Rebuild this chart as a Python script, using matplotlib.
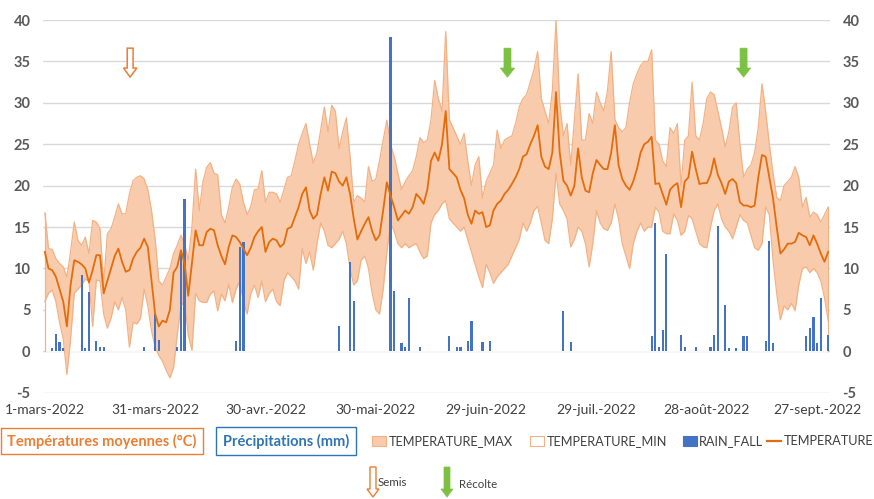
import matplotlib
matplotlib.use("Agg")
import matplotlib.pyplot as plt
from matplotlib.patches import FancyArrow, Rectangle
import numpy as np

plt.rcParams['font.family'] = ['Lato', 'DejaVu Sans']

# ---------------- data (daily, 1 March 2022 -> 30 Sept 2022) ----------------
t_max = [16.7, 12.4, 12.3, 11.2, 10.6, 10.2, 9.0, 12.0, 15.6, 13.4,
         12.8, 13.8, 11.8, 15.8, 15.6, 14.8, 8.2, 14.2, 14.8, 16.2,
         17.8, 16.6, 16.6, 19.0, 20.6, 21.0, 21.2, 20.8, 19.5, 17.0,
         13.5, 8.5, 8.0, 9.0, 10.0, 11.8, 12.8, 14.0, 13.0, 11.0,
         15.0, 22.0, 17.0, 20.5, 22.2, 22.8, 21.5, 21.3, 16.5, 15.5,
         17.4, 19.8, 20.8, 20.2, 18.0, 16.5, 17.5, 19.5, 19.6, 21.8,
         18.0, 19.2, 19.2, 19.0, 18.0, 19.5, 21.0, 21.2, 23.0, 25.0,
         26.3, 27.5, 25.0, 22.7, 24.0, 26.7, 29.5, 26.5, 29.7, 29.0,
         24.5, 26.5, 28.2, 23.5, 18.0, 18.8, 18.5, 18.0, 22.3, 20.5,
         20.8, 23.0, 25.5, 27.9, 25.0, 23.5, 21.5, 19.5, 20.5, 21.2,
         21.8, 23.5, 25.8, 25.2, 25.5, 27.9, 32.7, 30.5, 29.0, 38.6,
         28.0, 27.0, 26.0, 25.0, 26.3, 23.0, 20.0, 22.5, 23.5, 18.5,
         20.5, 21.5, 22.5, 26.7, 24.5, 25.5, 25.8, 26.0, 27.5, 29.5,
         30.5, 31.0, 32.5, 34.0, 36.2, 30.5, 29.0, 27.5, 31.5, 40.0,
         30.0, 26.0, 27.5, 22.5, 28.0, 33.5, 25.5, 25.5, 28.7, 27.5,
         31.3, 30.0, 29.0, 31.5, 36.2, 28.0, 27.0, 26.5, 27.0, 30.0,
         32.3, 33.5, 34.5, 35.0, 35.0, 36.4, 25.5, 25.0, 23.0, 22.3,
         27.0, 26.3, 27.5, 20.0, 25.5, 26.0, 32.5, 26.0, 25.5, 27.5,
         30.5, 31.3, 31.0, 29.0, 27.0, 24.7, 26.5, 29.5, 30.0, 25.0,
         21.0, 22.0, 22.5, 24.0, 27.0, 32.3, 29.0, 25.0, 21.5, 18.6,
         18.2, 20.0, 20.5, 21.0, 22.3, 21.0, 17.4, 18.6, 16.2, 16.8,
         16.5, 15.6, 16.5, 17.4]

t_min = [6.0, 7.0, 7.4, 6.0, 3.5, 1.5, -2.8, 1.5, 7.0, 7.5,
         8.0, 8.7, 8.5, 3.0, 8.6, 8.5, 4.5, 2.8, 4.0, 6.0,
         5.0, 6.5, 5.0, 0.5, 3.5, 3.3, 4.0, 7.5, 5.5, 2.5,
         0.5, -0.5, -1.2, -2.3, -3.2, -2.0, 2.0, 5.5, 6.0, 2.0,
         0.1, 7.0, 6.1, 5.9, 5.9, 6.9, 7.3, 4.9, 6.9, 6.1,
         8.1, 5.9, 7.5, 8.5, 6.0, 4.5, 7.0, 8.0, 6.5, 8.5,
         6.0, 7.0, 7.5, 6.0, 5.5, 8.5, 9.5, 9.0, 8.5, 7.5,
         12.4, 10.6, 12.0, 9.8, 13.0, 15.5, 14.5, 12.8, 12.5, 13.0,
         13.5, 14.5, 13.0, 10.0, 8.0, 8.5, 11.0, 11.5, 10.0, 7.0,
         5.0, 4.5, 7.5, 12.0, 15.5, 14.5, 13.0, 12.5, 13.0, 12.5,
         12.8, 13.0, 12.0, 11.2, 11.5, 15.5, 16.5, 17.0, 17.8, 18.2,
         16.0, 15.5, 15.0, 14.5, 15.0, 13.5, 12.0, 10.5, 9.0, 7.7,
         10.5, 9.5, 8.2, 9.0, 9.5, 10.0, 10.5, 11.5, 12.5, 13.5,
         15.5, 14.5, 15.5, 17.0, 17.5, 15.5, 13.4, 13.0, 16.0, 21.5,
         17.8, 17.0, 16.0, 12.6, 13.5, 15.0, 14.5, 13.0, 10.2, 13.0,
         17.0, 15.5, 14.8, 14.6, 15.5, 17.8, 16.0, 13.0, 11.5, 10.0,
         13.0, 14.5, 15.5, 14.5, 15.0, 15.0, 17.4, 16.8, 14.5, 14.2,
         14.2, 16.6, 15.8, 14.0, 14.5, 16.4, 16.0, 14.5, 13.0, 12.6,
         12.5, 15.0, 17.0, 17.8, 16.0, 15.0, 14.5, 13.6, 15.0, 16.5,
         15.8, 15.5, 14.0, 12.5, 12.2, 13.0, 17.4, 16.5, 11.0, 7.0,
         3.8, 5.5, 5.0, 5.8, 4.9, 8.0, 10.0, 10.2, 9.5, 10.0,
         9.5, 8.5, 6.5, 3.7]

t_mean = [12.0, 10.0, 9.8, 9.0, 7.5, 6.0, 3.0, 8.0, 11.0, 10.8,
          10.5, 10.0, 8.3, 9.8, 11.6, 11.6, 7.0, 8.5, 10.0, 11.5,
          12.4, 10.8, 9.6, 9.8, 11.2, 12.0, 12.5, 13.6, 12.6, 8.5,
          4.5, 3.0, 3.7, 3.5, 5.0, 9.5, 10.2, 12.2, 10.6, 6.7,
          10.6, 14.6, 12.8, 12.8, 14.4, 14.8, 14.6, 12.8, 11.5, 10.5,
          12.6, 14.0, 13.8, 13.2, 12.4, 11.6, 12.5, 13.8, 14.5, 15.0,
          12.0, 13.2, 13.6, 13.4, 12.6, 13.0, 14.8, 15.0, 16.2, 17.4,
          19.0, 19.8, 17.0, 16.0, 16.5, 19.0, 21.0, 19.4, 21.7, 21.5,
          20.5, 20.0, 21.0, 19.0, 16.0, 13.5, 14.5, 15.4, 16.2, 14.5,
          13.4, 14.0, 17.0, 20.4, 18.8, 17.4, 15.8, 16.4, 17.0, 16.6,
          17.4, 19.0, 18.5, 17.8, 19.5, 23.0, 24.0, 23.0, 25.0, 29.0,
          22.0, 21.5, 21.0, 19.5, 18.5, 16.5, 15.4, 17.0, 16.6, 16.8,
          15.0, 15.2, 17.0, 17.8, 18.2, 19.0, 19.5, 20.2, 21.0, 22.0,
          23.5, 23.8, 25.0, 26.0, 27.3, 23.5, 22.3, 22.0, 24.0, 31.3,
          24.0, 20.6, 20.0, 18.8, 20.0, 24.5, 21.0, 19.4, 19.2, 21.5,
          23.1, 22.5, 22.0, 22.0, 24.0, 27.3, 22.5, 20.8, 20.0, 19.5,
          20.5, 22.0, 24.0, 25.0, 25.3, 25.9, 20.2, 20.3, 19.0, 17.7,
          19.5, 20.0, 20.3, 17.4, 20.5, 21.0, 24.1, 22.0, 20.2, 20.3,
          20.3, 21.3, 23.3, 21.3, 20.3, 19.0, 20.5, 20.8, 20.3, 18.0,
          17.6, 17.6, 17.4, 17.6, 21.0, 23.7, 23.5, 21.0, 18.5, 15.0,
          11.8, 12.3, 13.0, 13.0, 13.2, 14.3, 14.0, 13.8, 12.8, 14.0,
          13.0, 11.8, 10.8, 12.0]

rain_days = [2, 3, 4, 5, 10, 11, 12, 14, 15, 16, 27, 30, 31, 36, 37, 38,
             52, 53, 54, 80, 83, 84, 94, 95, 97, 98, 99, 102, 110, 112, 113,
             115, 116, 119, 121, 141, 143, 165, 166, 167, 168, 169, 173, 174,
             177, 181, 182, 183, 185, 186, 188, 190, 191, 196, 197, 198, 207,
             208, 209, 210, 211, 213]
rain_mm = [0.4, 2.1, 1.1, 0.4, 9.2, 0.4, 7.1, 1.3, 0.5, 0.5, 0.5, 4.5, 1.4,
           0.5, 12.2, 18.4, 1.2, 12.6, 13.2, 3.0, 10.8, 6.1, 38.0, 7.3, 1.0,
           0.5, 6.4, 0.5, 1.8, 0.5, 0.5, 1.3, 3.6, 1.1, 1.2, 4.9, 1.1, 1.8,
           15.5, 0.5, 2.6, 11.7, 2.0, 0.5, 0.5, 0.5, 2.0, 15.1, 5.6, 0.4,
           0.4, 1.8, 1.8, 1.3, 13.3, 1.0, 1.8, 2.8, 4.1, 1.0, 6.4, 2.0]

tick_days = [0, 30, 60, 90, 120, 150, 180, 210]
tick_labels = ['1-mars-2022', '31-mars-2022', '30-avr.-2022', '30-mai-2022',
               '29-juin-2022', '29-juil.-2022', '28-août-2022', '27-sept.-2022']

semis_day = 23.2
recolte_days = [125.8, 190.0]

# ---------------- styling ----------------
C_BAND = '#F8CBAD'
C_EDGE = '#F4B183'
C_MEAN = '#E46C0A'
C_RAIN = '#4472C4'
C_GREEN = '#7CC142'
C_ORANGE = '#ED7D31'
C_TXT = '#595959'

W, H = 874, 499
fig = plt.figure(figsize=(W / 100, H / 100), dpi=100)
ax = fig.add_axes([43 / W, 1 - 392.7 / H, (830 - 43) / W, (392.7 - 20) / H])

days = np.arange(len(t_max))
ax.set_xlim(-0.5, len(days) - 0.5)
ax.set_ylim(-5, 40)
ax.set_yticks(range(-5, 41, 5))
ax.set_yticklabels([str(v) for v in range(-5, 41, 5)])
ax.grid(axis='y', color='#D9D9D9', lw=1.0)
ax.set_axisbelow(True)
for s in ax.spines.values():
    s.set_visible(False)
ax.tick_params(axis='y', length=0, labelright=True, pad=9,
               labelsize=10.5, labelcolor=C_TXT)
for lab in ax.get_yticklabels():
    lab.set_fontweight('bold')
ax.set_xticks(tick_days)
ax.set_xticklabels(tick_labels)
ax.tick_params(axis='x', length=0, pad=8, labelsize=10, labelcolor='#404040')

# white area below min (hides gridlines like the Excel stacked area)
ax.fill_between(days, 0, t_min, color='white', lw=0, zorder=1)
ax.fill_between(days, t_min, t_max, color=C_BAND, lw=0, zorder=1.5)
ax.plot(days, t_max, color=C_EDGE, lw=0.9, zorder=2)
ax.plot(days, t_min, color=C_EDGE, lw=0.9, zorder=2)
ax.plot([days[0], days[0]], [0, t_max[0]], color=C_EDGE, lw=0.9, zorder=2)
ax.plot([days[-1], days[-1]], [min(0, t_min[-1]), t_max[-1]], color=C_EDGE, lw=0.9, zorder=2)

ax.bar(rain_days, rain_mm, width=0.6, color=C_RAIN, zorder=3)
ax.plot(days, t_mean, color=C_MEAN, lw=1.3, zorder=4)

# event arrows inside the plot
ax.add_patch(FancyArrow(semis_day, 36.6, 0, -3.5, width=1.6, head_width=3.6,
                        head_length=1.1, length_includes_head=True,
                        fc='white', ec=C_ORANGE, lw=1.1, zorder=5))
for d in recolte_days:
    ax.add_patch(FancyArrow(d, 36.6, 0, -3.5, width=1.9, head_width=3.9,
                            head_length=1.1, length_includes_head=True,
                            fc=C_GREEN, ec=C_GREEN, lw=0.5, zorder=5))

# ---------------- legend area (figure pixel overlay) ----------------
ov = fig.add_axes([0, 0, 1, 1], facecolor='none')
ov.set_xlim(0, W)
ov.set_ylim(H, 0)
ov.axis('off')

ov.text(102, 441, 'Températures moyennes (°C)', color=C_ORANGE, fontsize=10.5,
        fontweight='bold', ha='center', va='center',
        bbox=dict(boxstyle='square,pad=0.4', fc='white', ec=C_ORANGE, lw=1))
ov.text(286, 441, 'Précipitations (mm)', color='#2E75B6', fontsize=10.5,
        fontweight='bold', ha='center', va='center',
        bbox=dict(boxstyle='square,pad=0.45', fc='white', ec='#2E75B6', lw=1))

LEG_FS = 9.2
ov.add_patch(Rectangle((372, 436), 14, 10, fc=C_BAND, ec=C_EDGE, lw=0.8))
ov.text(389, 441, 'TEMPERATURE_MAX', color='#404040', fontsize=LEG_FS, va='center')
ov.add_patch(Rectangle((530, 436), 14, 10, fc='white', ec=C_EDGE, lw=0.8))
ov.text(547, 441, 'TEMPERATURE_MIN', color='#404040', fontsize=LEG_FS, va='center')
ov.add_patch(Rectangle((683, 436), 14, 10, fc=C_RAIN, ec=C_RAIN, lw=0.8))
ov.text(699, 441, 'RAIN_FALL', color='#404040', fontsize=LEG_FS, va='center')
ov.plot([767, 781], [441, 441], color=C_MEAN, lw=1.6)
ov.text(784, 441, 'TEMPERATURE', color='#404040', fontsize=LEG_FS, va='center')

ov.add_patch(FancyArrow(373, 467, 0, 30, width=6, head_width=12, head_length=8,
                        length_includes_head=True, fc='white', ec=C_ORANGE, lw=1))
ov.text(378, 482, 'Semis', color='#404040', fontsize=8.3, va='center')
ov.add_patch(FancyArrow(447, 467, 0, 30, width=6, head_width=12, head_length=8,
                        length_includes_head=True, fc=C_GREEN, ec=C_GREEN, lw=0.5))
ov.text(459, 484, 'Récolte', color='#404040', fontsize=8.3, va='center')

fig.savefig('out.png', dpi=100)
